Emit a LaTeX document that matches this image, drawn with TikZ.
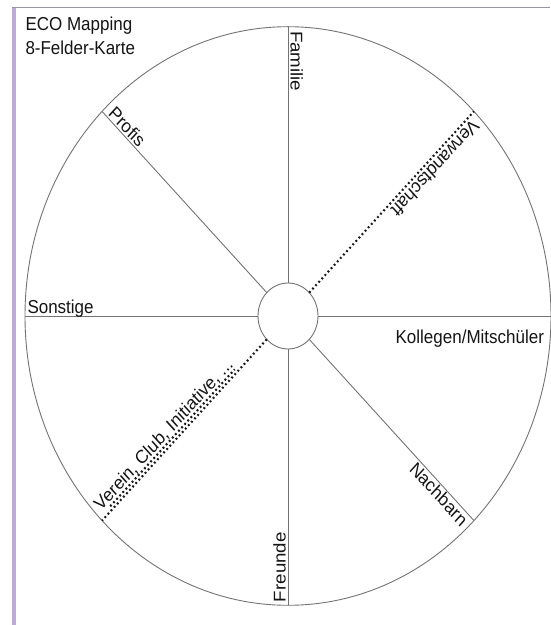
\documentclass[tikz,border=0pt]{standalone}
\usepackage{fontspec}
\setmainfont{Liberation Sans}
\usetikzlibrary{calc}
\definecolor{barpurple}{RGB}{190,170,214}
\definecolor{frameline}{RGB}{150,150,160}
\definecolor{spoke}{RGB}{115,115,115}
\definecolor{dotcol}{RGB}{25,25,25}
\definecolor{txt}{RGB}{20,20,20}
\begin{document}
\begin{tikzpicture}[x=1pt,y=1pt,
  spokeline/.style={draw=spoke, line width=0.9pt},
  dotline/.style={draw=dotcol, line width=2.1pt, dash pattern=on 1.9pt off 2.7pt},
  lbl/.style={inner sep=0pt, outer sep=0pt, text=txt, font=\fontsize{17}{20}\selectfont},
  ring/.style={circle, draw=spoke, line width=0.9pt, inner sep=0pt, outer sep=0pt}]
\useasboundingbox (0,0) rectangle (550,625);
\fill[barpurple] (11.5,0) rectangle (16,618);
\draw[frameline, line width=0.8pt] (11.5,618) -- (550,618);
\begin{scope}[shift={(288,309)}, yscale=1.1, transform shape]
  \node[ring, minimum size=526pt] (rim) at (0,0) {};
  \node[ring, minimum size=60pt] (hub) at (0,0) {};
  \foreach \a in {0,90,135,180,270,315} \draw[spokeline] (hub.\a) -- (rim.\a);
  \draw[dotline] (hub.45) -- (rim.45);
  \draw[dotline] (hub.225) -- (rim.225);
  \coordinate (vs) at ($(-135:248)+(135:3.4)$);
  \coordinate (ve) at ($(-135:72)+(135:3.4)$);
  \draw[dotline] (vs) -- (ve);
  % header
  \node[lbl, anchor=base west] (title1) at (-262.5,259.4) {ECO Mapping};
  \node[lbl, anchor=base west] (title2) at (-262.5,237.3) {8-Felder-Karte};
  % labels
  \node[lbl, rotate=-90, anchor=base west] (familie) at (2.5,259) {Familie};
  \node[lbl, rotate=90, anchor=base west] (freunde) at (-2.5,-260) {Freunde};
  \node[lbl, anchor=base west] (sonstige) at (-260.5,2.5) {Sonstige};
  \node[lbl, anchor=north east] (kollegen) at (256,-12.5) {Kollegen/Mitschüler};
  \node[lbl, rotate=-45, anchor=base west] (profis) at ($(135:257)+(45:2)$) {Profis};
  \node[lbl, rotate=-135, anchor=base west] (verwandt) at ($(45:257)+(-45:3.5)$) {Verwandtschaft};
  \node[lbl, rotate=-45, anchor=north east] (nachbarn) at ($(-45:258)+(-135:1.5)$) {Nachbarn};
  \node[lbl, rotate=45, anchor=base west] (verein) at ($(-135:258)+(135:6.5)$) {Verein, Club, Initiative, ...};
\end{scope}
\end{tikzpicture}
\end{document}
